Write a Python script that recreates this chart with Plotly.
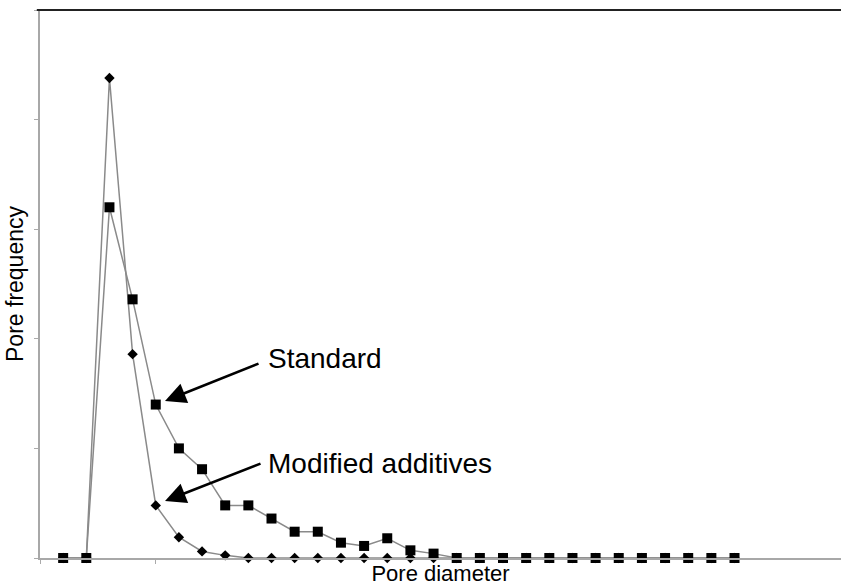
import plotly.graph_objects as go

# Pore diameter classes (category index) and relative pore frequencies
diameter_class = list(range(1, 31))
standard = [0, 0, 16.0, 11.8, 7.0, 5.0, 4.05, 2.4, 2.4, 1.8, 1.2, 1.2, 0.7, 0.55,
            0.9, 0.35, 0.2, 0, 0, 0, 0, 0, 0, 0, 0, 0, 0, 0, 0, 0]
modified = [0, 0, 21.9, 9.3, 2.4, 0.95, 0.3, 0.12, 0, 0, 0, 0, 0, 0, 0, 0, 0,
            0, 0, 0, 0, 0, 0, 0, 0, 0, 0, 0, 0, 0]
y_ticks = [0, 5, 10, 15, 20, 25]
x_ticks = [0, 5]

FONT = "Liberation Sans, Arial, Helvetica, sans-serif"
LINE_GREY = "#8a8a8a"

fig = go.Figure()
fig.add_trace(go.Scatter(
    x=diameter_class, y=modified, mode="lines+markers", name="Modified additives",
    line=dict(color=LINE_GREY, width=1.5),
    marker=dict(symbol="diamond", size=8, color="black"),
    cliponaxis=False,
))
fig.add_trace(go.Scatter(
    x=diameter_class, y=standard, mode="lines+markers", name="Standard",
    line=dict(color=LINE_GREY, width=1.5),
    marker=dict(symbol="square", size=10, color="black"),
    cliponaxis=False,
))

# Callout arrows (no text) and their labels
arrow_style = dict(showarrow=True, arrowhead=2, arrowsize=1.6, arrowwidth=2.6,
                   arrowcolor="black", text="", axref="pixel", ayref="pixel")
fig.add_annotation(x=5.4, y=7.16, ax=95, ay=-38, **arrow_style)
fig.add_annotation(x=5.4, y=2.6, ax=97, ay=-38, **arrow_style)

label_style = dict(showarrow=False, xanchor="left", yanchor="middle",
                   font=dict(family=FONT, size=28, color="black"))
fig.add_annotation(x=9.78, y=9.1, text="Standard", **label_style)
fig.add_annotation(x=9.78, y=4.3, text="Modified additives", **label_style)

fig.update_layout(
    width=841, height=588,
    margin=dict(l=40, r=0, t=10, b=30),
    paper_bgcolor="white", plot_bgcolor="white",
    showlegend=False,
    font=dict(family=FONT, color="black"),
    xaxis=dict(
        range=[0, 34.6], tickvals=x_ticks, showticklabels=False,
        ticks="outside", ticklen=4, tickcolor="#aaaaaa", tickwidth=1,
        showgrid=False, zeroline=False,
        showline=True, linecolor="#a8a8a8", linewidth=2,
        title=dict(text="Pore diameter", font=dict(size=22), standoff=3),
    ),
    yaxis=dict(
        range=[0, 25], tickvals=y_ticks, showticklabels=False,
        ticks="outside", ticklen=4, tickcolor="#aaaaaa", tickwidth=1,
        showgrid=False, zeroline=False,
        showline=True, linecolor="#a8a8a8", linewidth=2,
        title=dict(text="Pore frequency", font=dict(size=23), standoff=4),
    ),
    shapes=[dict(type="line", xref="paper", yref="paper", x0=-0.004, x1=1,
                 y0=1, y1=1, line=dict(color="#222222", width=2))],
)

fig.write_html("out.html")
